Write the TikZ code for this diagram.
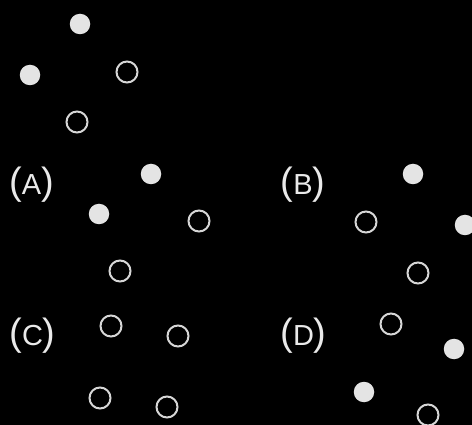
\documentclass[tikz,border=0pt]{standalone}
\usepackage{fontspec}
\setmainfont{Liberation Sans}
\definecolor{dotfill}{HTML}{E4E4E4}
\definecolor{dotline}{HTML}{D6D6D6}
\definecolor{labtext}{HTML}{EAEAEA}
\newcommand{\plab}[1]{{\fontsize{38}{38}\selectfont(}#1{\fontsize{38}{38}\selectfont)}}
\tikzset{
  full/.style={circle,fill=dotfill,draw=none,minimum size=20.5pt,inner sep=0pt},
  empty/.style={circle,draw=dotline,line width=2pt,fill=none,minimum size=21pt,inner sep=0pt},
  lab/.style={text=labtext,inner sep=0pt,font=\fontsize{29}{29}\selectfont}
}
\begin{document}
\begin{tikzpicture}[x=1pt,y=-1pt]
\fill[black] (0,0) rectangle (472,425);
\clip (0,0) rectangle (472,425);
\useasboundingbox (0,0) rectangle (472,425);
% top group
\node[full]  (t1) at (80,24) {};
\node[full]  (t2) at (30,75) {};
\node[empty] (t3) at (127,72) {};
\node[empty] (t4) at (77,122) {};
% group A
\node[lab] (la) at (31.5,185) {\plab{A}};
\node[full]  (a1) at (151,174) {};
\node[full]  (a2) at (99,214) {};
\node[empty] (a3) at (199,221) {};
\node[empty] (a4) at (120,271) {};
% group B
\node[lab] (lb) at (303,185) {\plab{B}};
\node[full]  (b1) at (413,174) {};
\node[full]  (b2) at (465,225) {};
\node[empty] (b3) at (366,222) {};
\node[empty] (b4) at (418,273) {};
% group C
\node[lab] (lc) at (32.5,336) {\plab{C}};
\node[empty] (c1) at (111,326) {};
\node[empty] (c2) at (178,336) {};
\node[empty] (c3) at (100,398) {};
\node[empty] (c4) at (167,407) {};
% group D
\node[lab] (ld) at (303.5,336) {\plab{D}};
\node[empty] (d1) at (391,324) {};
\node[full]  (d2) at (454,349) {};
\node[full]  (d3) at (364,392) {};
\node[empty] (d4) at (428,415) {};
\end{tikzpicture}
\end{document}
